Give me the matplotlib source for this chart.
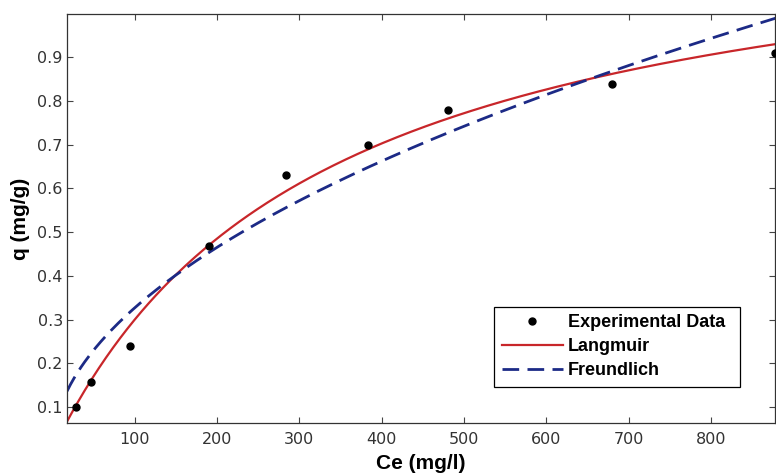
import matplotlib
matplotlib.use("Agg")
import matplotlib.pyplot as plt
import numpy as np

CE = [29, 47, 95, 190, 284, 383, 481, 680, 877]
Q = [0.100, 0.157, 0.240, 0.468, 0.630, 0.700, 0.780, 0.840, 0.909]

# Isotherm model parameters (estimated from the drawn curves)
LANGMUIR_QM = 1.275
LANGMUIR_K = 0.003072
FREUNDLICH_KF = 0.0312
FREUNDLICH_INV_N = 0.51

X_RANGE = (18, 878)
Y_RANGE = (0.063, 0.999)
X_TICKS = [100, 200, 300, 400, 500, 600, 700, 800]
Y_TICKS = [0.1, 0.2, 0.3, 0.4, 0.5, 0.6, 0.7, 0.8, 0.9]

plt.rcParams["font.family"] = ["Liberation Sans", "DejaVu Sans"]


def langmuir(c):
    return LANGMUIR_QM * LANGMUIR_K * c / (1 + LANGMUIR_K * c)


def freundlich(c):
    return FREUNDLICH_KF * c ** FREUNDLICH_INV_N


def main():
    fig = plt.figure(figsize=(7.76, 4.75), dpi=100)
    ax = fig.add_axes([0.0863, 0.1088, 0.9130, 0.8617])

    c = np.linspace(X_RANGE[0], X_RANGE[1], 400)
    ax.plot(CE, Q, "o", color="black", markersize=5, label="Experimental Data",
            zorder=3)
    ax.plot(c, langmuir(c), "-", color="#c8262a", lw=1.6, label="Langmuir")
    ax.plot(c, freundlich(c), "--", color="#1c2a86", lw=2.0, dashes=(6, 3),
            label="Freundlich")

    ax.set_xlim(*X_RANGE)
    ax.set_ylim(*Y_RANGE)
    ax.set_xticks(X_TICKS)
    ax.set_yticks(Y_TICKS)
    ax.set_yticklabels([f"{t:.1f}" for t in Y_TICKS])
    ax.tick_params(direction="in", length=4.5, width=0.8, top=True, right=True,
                   labelsize=11.5, labelcolor="#333333", color="#444444")
    ax.tick_params(axis="x", pad=6)
    ax.tick_params(axis="y", pad=3)
    for lbl in ax.get_xticklabels() + ax.get_yticklabels():
        lbl.set_family("DejaVu Sans")
    for s in ax.spines.values():
        s.set_linewidth(0.9)
        s.set_color("#333333")

    ax.set_xlabel("Ce (mg/l)", fontsize=15, fontweight="bold", labelpad=5)
    ax.set_ylabel("q (mg/g)", fontsize=15, fontweight="bold", labelpad=5)

    leg = ax.legend(loc="lower left", bbox_to_anchor=(0.603, 0.0887, 0.347, 0.196),
                    mode="expand", fancybox=False, edgecolor="black",
                    framealpha=1, borderaxespad=0, handlelength=3.4,
                    handletextpad=0.25, labelspacing=0.39, borderpad=0.42,
                    prop={"weight": "bold", "size": 13})
    leg.get_frame().set_linewidth(0.9)

    fig.savefig("out.png", dpi=100)


if __name__ == "__main__":
    main()
